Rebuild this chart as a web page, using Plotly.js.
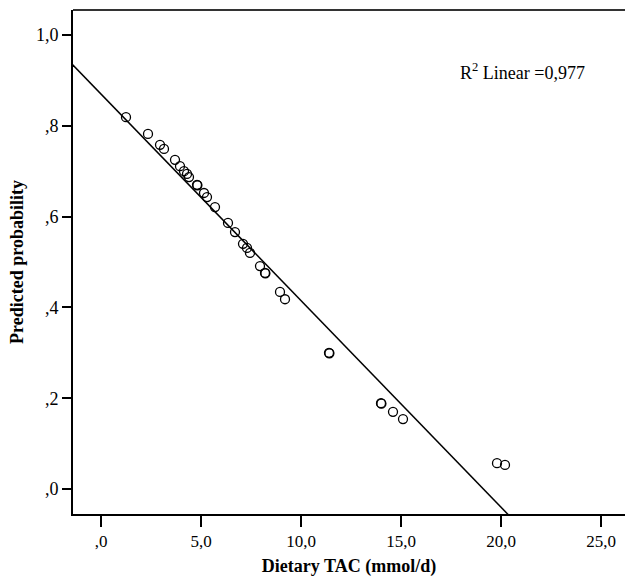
<!DOCTYPE html>
<html>
<head>
<meta charset="utf-8">
<script src="https://cdn.plot.ly/plotly-3.0.1.min.js"></script>
<style>html,body{margin:0;padding:0;background:#fff;}#chart{width:625px;height:577px;}</style>
</head>
<body>
<div id="chart"></div>
<script>
// Dietary TAC (mmol/d)
const dietaryTAC = [1.25, 2.35, 2.95, 3.15, 3.7, 3.95, 4.15, 4.3, 4.4, 4.8, 4.82, 5.15, 5.3, 5.7,
  6.35, 6.7, 7.1, 7.3, 7.45, 7.95, 8.2, 8.22, 8.95, 9.2, 11.4, 11.42, 14.0, 14.02, 14.6, 15.1, 19.8, 20.2];
// Predicted probability
const predictedProb = [0.819, 0.782, 0.758, 0.749, 0.725, 0.711, 0.700, 0.694, 0.687, 0.670, 0.669, 0.652, 0.643, 0.621,
  0.586, 0.566, 0.540, 0.531, 0.520, 0.491, 0.476, 0.475, 0.434, 0.418, 0.300, 0.299, 0.189, 0.188, 0.170, 0.154, 0.057, 0.053];
// Linear fit (R² = 0,977)
const fitIntercept = 0.870;
const fitSlope = -0.0455;
const fitXRange = [-2, 22];

const xTickVals = [0, 5, 10, 15, 20, 25];
const xTickText = [",0", "5,0", "10,0", "15,0", "20,0", "25,0"];
const yTickVals = [0, 0.2, 0.4, 0.6, 0.8, 1.0];
const yTickText = [",0", ",2", ",4", ",6", ",8", "1,0"];

const serif = "Liberation Serif, Times New Roman, serif";

const fitY = fitXRange.map(x => fitIntercept + fitSlope * x);

const traces = [
  {
    x: fitXRange, y: fitY, type: "scatter", mode: "lines",
    line: {color: "#000", width: 1.5}, hoverinfo: "skip", showlegend: false
  },
  {
    x: dietaryTAC, y: predictedProb, type: "scatter", mode: "markers",
    marker: {symbol: "circle-open", size: 9, color: "#000", line: {color: "#000", width: 1.3}},
    showlegend: false
  }
];

const layout = {
  width: 625, height: 577,
  margin: {l: 73, r: 0, t: 10, b: 63},
  paper_bgcolor: "#fff", plot_bgcolor: "#fff",
  font: {family: serif, color: "#000", size: 17},
  xaxis: {
    range: [-1.4, 26.2], tickvals: xTickVals, ticktext: xTickText,
    ticks: "outside", ticklen: 11, tickwidth: 2, tickcolor: "#000",
    showline: true, linecolor: "#000", linewidth: 2, showgrid: false, zeroline: false,
    tickfont: {family: serif, size: 17, color: "#000"},
    title: {text: "<b>Dietary TAC (mmol/d)</b>", font: {family: serif, size: 18, color: "#000"}, standoff: 10}
  },
  yaxis: {
    range: [-0.055, 1.055], tickvals: yTickVals, ticktext: yTickText,
    ticks: "outside", ticklen: 9, tickwidth: 2, tickcolor: "#000",
    showline: true, linecolor: "#000", linewidth: 2, showgrid: false, zeroline: false,
    tickfont: {family: serif, size: 18, color: "#000"},
    title: {text: "<b>Predicted probability</b>", font: {family: serif, size: 18, color: "#000"}, standoff: 8}
  },
  shapes: [
    {type: "line", xref: "paper", yref: "paper", x0: 0, x1: 1, y0: 1, y1: 1, line: {color: "#333", width: 2}}
  ],
  annotations: [
    {xref: "paper", yref: "paper", x: 0.697, y: 0.877, xanchor: "left", yanchor: "middle", showarrow: false,
     text: "R<sup>2</sup> Linear =0,977", font: {family: serif, size: 18, color: "#000"}}
  ]
};

Plotly.newPlot("chart", traces, layout, {displayModeBar: false, staticPlot: true});
</script>
</body>
</html>
